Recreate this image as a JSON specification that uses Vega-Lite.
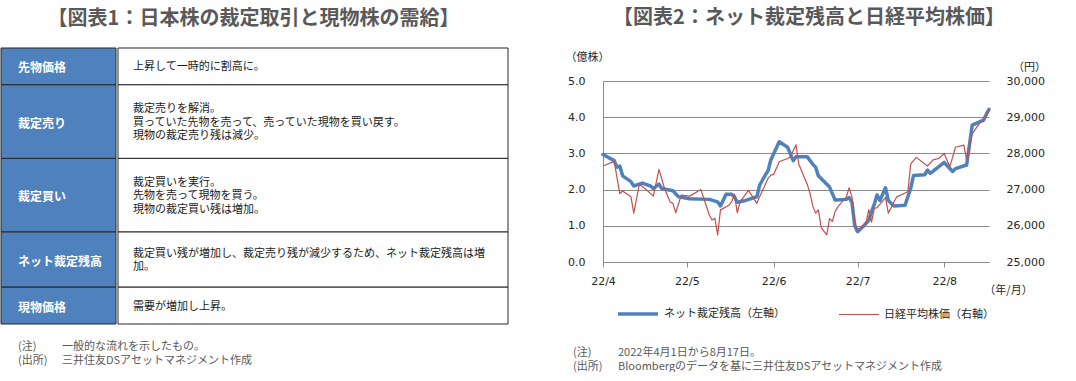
{
  "$schema": "https://vega.github.io/schema/vega-lite/v6.json",
  "background": "white",
  "padding": {"left": 0, "top": 5, "right": 0, "bottom": 0},
  "config": {
    "view": {"stroke": null},
    "font": "Noto Sans CJK JP"
  },
  "datasets": {
    "table": [
      {"row": 1, "head": "先物価格", "desc": "上昇して一時的に割高に。", "span": 2},
      {"row": 2, "head": "裁定売り", "desc": "裁定売りを解消。\n買っていた先物を売って、売っていた現物を買い戻す。\n現物の裁定売り残は減少。", "span": 4},
      {"row": 3, "head": "裁定買い", "desc": "裁定買いを実行。\n先物を売って現物を買う。\n現物の裁定買い残は増加。", "span": 4},
      {"row": 4, "head": "ネット裁定残高", "desc": "裁定買い残が増加し、裁定売り残が減少するため、ネット裁定残高は増\n加。", "span": 3},
      {"row": 5, "head": "現物価格", "desc": "需要が増加し上昇。", "span": 2}
    ],
    "notesL": [
      {"i": 1, "k": "(注)", "t": "一般的な流れを示したもの。"},
      {"i": 2, "k": "(出所)", "t": "三井住友DSアセットマネジメント作成"}
    ],
    "notesR": [
      {"i": 1, "k": "(注)", "t": "2022年4月1日から8月17日。"},
      {"i": 2, "k": "(出所)", "t": "Bloombergのデータを基に三井住友DSアセットマネジメント作成"}
    ],
    "arb": [
      {"d": "2022-04-01", "v": 2.97}, {"d": "2022-04-05", "v": 2.80}, {"d": "2022-04-06", "v": 2.62}, {"d": "2022-04-07", "v": 2.65},
      {"d": "2022-04-08", "v": 2.38}, {"d": "2022-04-11", "v": 2.22}, {"d": "2022-04-12", "v": 2.10}, {"d": "2022-04-15", "v": 2.18},
      {"d": "2022-04-18", "v": 2.10}, {"d": "2022-04-19", "v": 2.03}, {"d": "2022-04-21", "v": 2.15}, {"d": "2022-04-22", "v": 2.03},
      {"d": "2022-04-26", "v": 1.97}, {"d": "2022-04-27", "v": 1.88}, {"d": "2022-04-28", "v": 1.80}, {"d": "2022-05-02", "v": 1.75},
      {"d": "2022-05-09", "v": 1.73}, {"d": "2022-05-12", "v": 1.66}, {"d": "2022-05-13", "v": 1.55}, {"d": "2022-05-15", "v": 1.87},
      {"d": "2022-05-17", "v": 1.87}, {"d": "2022-05-18", "v": 1.80}, {"d": "2022-05-19", "v": 1.65}, {"d": "2022-05-22", "v": 1.70},
      {"d": "2022-05-25", "v": 1.78}, {"d": "2022-05-26", "v": 1.80}, {"d": "2022-05-27", "v": 2.12}, {"d": "2022-05-29", "v": 2.40},
      {"d": "2022-05-30", "v": 2.52}, {"d": "2022-05-31", "v": 2.82}, {"d": "2022-06-03", "v": 3.32}, {"d": "2022-06-06", "v": 3.17},
      {"d": "2022-06-08", "v": 2.80}, {"d": "2022-06-09", "v": 2.91}, {"d": "2022-06-13", "v": 2.91}, {"d": "2022-06-15", "v": 2.70},
      {"d": "2022-06-16", "v": 2.62}, {"d": "2022-06-17", "v": 2.38}, {"d": "2022-06-20", "v": 2.15}, {"d": "2022-06-21", "v": 2.07},
      {"d": "2022-06-23", "v": 1.71}, {"d": "2022-06-25", "v": 1.72}, {"d": "2022-06-27", "v": 1.73}, {"d": "2022-06-28", "v": 1.78},
      {"d": "2022-06-29", "v": 1.65}, {"d": "2022-06-30", "v": 1.00}, {"d": "2022-07-01", "v": 0.84}, {"d": "2022-07-03", "v": 0.98},
      {"d": "2022-07-05", "v": 1.15}, {"d": "2022-07-06", "v": 1.39}, {"d": "2022-07-07", "v": 1.60}, {"d": "2022-07-08", "v": 1.85},
      {"d": "2022-07-09", "v": 1.70}, {"d": "2022-07-11", "v": 2.05}, {"d": "2022-07-12", "v": 1.70}, {"d": "2022-07-14", "v": 1.55},
      {"d": "2022-07-18", "v": 1.57}, {"d": "2022-07-20", "v": 2.03}, {"d": "2022-07-21", "v": 2.39}, {"d": "2022-07-25", "v": 2.41},
      {"d": "2022-07-26", "v": 2.54}, {"d": "2022-07-27", "v": 2.45}, {"d": "2022-08-01", "v": 2.75}, {"d": "2022-08-04", "v": 2.50},
      {"d": "2022-08-05", "v": 2.58}, {"d": "2022-08-09", "v": 2.68}, {"d": "2022-08-11", "v": 3.78}, {"d": "2022-08-15", "v": 3.92},
      {"d": "2022-08-17", "v": 4.22}
    ],
    "nk": [
      {"d": "2022-04-01", "v": 27650}, {"d": "2022-04-05", "v": 27780}, {"d": "2022-04-07", "v": 26890}, {"d": "2022-04-08", "v": 26960},
      {"d": "2022-04-11", "v": 26800}, {"d": "2022-04-12", "v": 26350}, {"d": "2022-04-14", "v": 27150}, {"d": "2022-04-16", "v": 27030},
      {"d": "2022-04-19", "v": 26820}, {"d": "2022-04-21", "v": 27560}, {"d": "2022-04-23", "v": 27030}, {"d": "2022-04-25", "v": 26660},
      {"d": "2022-04-26", "v": 26620}, {"d": "2022-04-27", "v": 26360}, {"d": "2022-04-29", "v": 26850}, {"d": "2022-05-02", "v": 26820},
      {"d": "2022-05-06", "v": 27000}, {"d": "2022-05-09", "v": 26300}, {"d": "2022-05-10", "v": 26160}, {"d": "2022-05-11", "v": 26210},
      {"d": "2022-05-12", "v": 25750}, {"d": "2022-05-13", "v": 26440}, {"d": "2022-05-16", "v": 26570}, {"d": "2022-05-17", "v": 26660},
      {"d": "2022-05-18", "v": 26870}, {"d": "2022-05-19", "v": 26360}, {"d": "2022-05-20", "v": 26660}, {"d": "2022-05-23", "v": 26980},
      {"d": "2022-05-26", "v": 26620}, {"d": "2022-05-27", "v": 26800}, {"d": "2022-05-30", "v": 27310}, {"d": "2022-05-31", "v": 27400},
      {"d": "2022-06-01", "v": 27420}, {"d": "2022-06-02", "v": 27590}, {"d": "2022-06-03", "v": 27770}, {"d": "2022-06-06", "v": 27860},
      {"d": "2022-06-07", "v": 27910}, {"d": "2022-06-09", "v": 28240}, {"d": "2022-06-10", "v": 27700}, {"d": "2022-06-13", "v": 27150},
      {"d": "2022-06-14", "v": 26900}, {"d": "2022-06-15", "v": 26550}, {"d": "2022-06-16", "v": 26350}, {"d": "2022-06-17", "v": 26440},
      {"d": "2022-06-18", "v": 25950}, {"d": "2022-06-20", "v": 25750}, {"d": "2022-06-21", "v": 26200}, {"d": "2022-06-22", "v": 26120},
      {"d": "2022-06-23", "v": 26400}, {"d": "2022-06-24", "v": 26530}, {"d": "2022-06-27", "v": 26800}, {"d": "2022-06-28", "v": 27050},
      {"d": "2022-06-29", "v": 26800}, {"d": "2022-06-30", "v": 26100}, {"d": "2022-07-01", "v": 25880}, {"d": "2022-07-04", "v": 26060},
      {"d": "2022-07-05", "v": 26450}, {"d": "2022-07-06", "v": 26100}, {"d": "2022-07-07", "v": 26480}, {"d": "2022-07-08", "v": 26500},
      {"d": "2022-07-11", "v": 26780}, {"d": "2022-07-12", "v": 26350}, {"d": "2022-07-15", "v": 26800}, {"d": "2022-07-19", "v": 26940},
      {"d": "2022-07-20", "v": 27710}, {"d": "2022-07-22", "v": 27890}, {"d": "2022-07-26", "v": 27650}, {"d": "2022-07-28", "v": 27820},
      {"d": "2022-07-30", "v": 27860}, {"d": "2022-08-01", "v": 28000}, {"d": "2022-08-03", "v": 27630}, {"d": "2022-08-05", "v": 28170},
      {"d": "2022-08-08", "v": 28230}, {"d": "2022-08-09", "v": 27820}, {"d": "2022-08-11", "v": 28540}, {"d": "2022-08-14", "v": 28880},
      {"d": "2022-08-15", "v": 28880}, {"d": "2022-08-17", "v": 29220}
    ]
  },
  "spacing": 56,
  "resolve": {"scale": {"color": "independent", "strokeWidth": "independent"}},
  "hconcat": [
    {
      "spacing": 15,
      "vconcat": [
        {
          "width": 505,
          "height": 27,
          "data": {"values": [{"t": "【図表1：日本株の裁定取引と現物株の需給】"}]},
          "mark": {"type": "text", "baseline": "middle", "align": "center", "fontSize": 20, "fontWeight": "bold", "fill": "#595959"},
          "encoding": {"text": {"field": "t"}}
        },
        {
          "spacing": 0,
          "hconcat": [
            {
              "width": 115,
              "height": 276,
              "data": {"name": "table"},
              "transform": [
                {"stack": "span", "groupby": [], "sort": [{"field": "row", "order": "ascending"}], "as": ["y0", "y1"]},
                {"calculate": "(datum.y0 + datum.y1) / 2", "as": "ym"}
              ],
              "layer": [
                {
                  "mark": {"type": "rect", "fill": "#4F81BD", "stroke": "#262626", "strokeWidth": 1},
                  "encoding": {
                    "y": {"field": "y0", "type": "quantitative", "scale": {"domain": [0, 15], "reverse": true, "nice": false, "zero": false}, "axis": null},
                    "y2": {"field": "y1"}
                  }
                },
                {
                  "mark": {"type": "text", "align": "left", "baseline": "middle", "dx": 17, "dy": 2, "fontSize": 12, "fontWeight": "bold", "fill": "white"},
                  "encoding": {
                    "x": {"value": 0},
                    "y": {"field": "ym", "type": "quantitative"},
                    "text": {"field": "head"}
                  }
                }
              ]
            },
            {
              "width": 390,
              "height": 276,
              "data": {"name": "table"},
              "transform": [
                {"stack": "span", "groupby": [], "sort": [{"field": "row", "order": "ascending"}], "as": ["y0", "y1"]},
                {"calculate": "(datum.y0 + datum.y1) / 2 - (length(split(datum.desc, '\\n')) - 1) * 0.367", "as": "yt"}
              ],
              "layer": [
                {
                  "mark": {"type": "rect", "fill": "white", "stroke": "#262626", "strokeWidth": 1},
                  "encoding": {
                    "y": {"field": "y0", "type": "quantitative", "scale": {"domain": [0, 15], "reverse": true, "nice": false, "zero": false}, "axis": null},
                    "y2": {"field": "y1"}
                  }
                },
                {
                  "mark": {"type": "text", "align": "left", "baseline": "middle", "dx": 15, "dy": 1, "fontSize": 11, "lineHeight": 13.5, "lineBreak": "\n", "fill": "#1a1a1a"},
                  "encoding": {
                    "x": {"value": 0},
                    "y": {"field": "yt", "type": "quantitative"},
                    "text": {"field": "desc"}
                  }
                }
              ]
            }
          ]
        },
        {
          "width": 505,
          "height": 28,
          "data": {"name": "notesL"},
          "layer": [
            {
              "mark": {"type": "text", "align": "left", "baseline": "middle", "dx": 17, "fontSize": 11, "fill": "#595959"},
              "encoding": {"x": {"value": 0}, "y": {"field": "i", "type": "ordinal", "axis": null}, "text": {"field": "k"}}
            },
            {
              "mark": {"type": "text", "align": "left", "baseline": "middle", "dx": 61, "fontSize": 11, "fill": "#595959"},
              "encoding": {"x": {"value": 0}, "y": {"field": "i", "type": "ordinal", "axis": null}, "text": {"field": "t"}}
            }
          ]
        }
      ]
    },
    {
      "spacing": 23,
      "resolve": {"scale": {"color": "independent", "strokeWidth": "independent"}},
      "vconcat": [
        {
          "width": 386,
          "height": 20,
          "data": {"values": [{"t": "【図表2：ネット裁定残高と日経平均株価】"}]},
          "mark": {"type": "text", "baseline": "middle", "align": "center", "dx": 13, "dy": 3, "fontSize": 20, "fontWeight": "bold", "fill": "#595959"},
          "encoding": {"text": {"field": "t"}}
        },
        {
          "width": 386,
          "height": 181,
          "encoding": {
            "x": {
              "field": "d",
              "type": "temporal",
              "scale": {"type": "utc", "domain": [{"year": 2022, "month": 4, "date": 1, "utc": true}, {"year": 2022, "month": 8, "date": 17, "utc": true}], "nice": false},
              "axis": {
                "values": [
                  {"year": 2022, "month": 4, "date": 1, "utc": true},
                  {"year": 2022, "month": 5, "date": 1, "utc": true},
                  {"year": 2022, "month": 6, "date": 1, "utc": true},
                  {"year": 2022, "month": 7, "date": 1, "utc": true},
                  {"year": 2022, "month": 8, "date": 1, "utc": true}
                ],
                "labelExpr": "utcFormat(datum.value, '%y/%-m')",
                "grid": false,
                "tickSize": 5,
                "tickColor": "#8c8c8c",
                "domainColor": "#8c8c8c",
                "labelPadding": 8,
                "labelFont": "DejaVu Sans",
                "labelFontSize": 11,
                "labelColor": "#262626",
                "labelFlush": false,
                "title": "（年/月）",
                "titleFont": "Noto Sans CJK JP",
                "titleFontSize": 11,
                "titleFontWeight": "normal",
                "titleColor": "#262626",
                "titleAlign": "center",
                "titleBaseline": "middle",
                "titleX": 405,
                "titleY": 28
              }
            },
            "color": {
              "field": "s",
              "type": "nominal",
              "scale": {"domain": ["ネット裁定残高（左軸）", "日経平均株価（右軸）"], "range": ["#4F81BD", "#C0504D"]},
              "legend": {
                "orient": "none",
                "legendX": 13,
                "legendY": 211,
                "direction": "horizontal",
                "title": null,
                "symbolType": "stroke",
                "symbolSize": 1600,
                "labelFont": "Noto Sans CJK JP",
                "labelFontSize": 11,
                "labelColor": "#262626",
                "labelOffset": 4,
                "columnPadding": 51,
                "padding": 0
              }
            },
            "strokeWidth": {
              "field": "s",
              "type": "nominal",
              "scale": {"domain": ["ネット裁定残高（左軸）", "日経平均株価（右軸）"], "range": [3.5, 1.2]},
              "legend": {
                "orient": "none",
                "legendX": 13,
                "legendY": 211,
                "direction": "horizontal",
                "title": null,
                "symbolType": "stroke",
                "symbolSize": 1600,
                "labelFont": "Noto Sans CJK JP",
                "labelFontSize": 11,
                "labelColor": "#262626",
                "labelOffset": 4,
                "columnPadding": 51,
                "padding": 0
              }
            }
          },
          "layer": [
            {
              "data": {"name": "arb"},
              "transform": [{"calculate": "'ネット裁定残高（左軸）'", "as": "s"}],
              "mark": {"type": "line", "strokeJoin": "round", "strokeCap": "round"},
              "encoding": {
                "y": {
                  "field": "v",
                  "type": "quantitative",
                  "scale": {"domain": [0, 5], "nice": false, "zero": false},
                  "axis": {
                    "orient": "left",
                    "values": [0, 1, 2, 3, 4, 5],
                    "labelExpr": "format(datum.value, '.1f')",
                    "grid": true,
                    "gridColor": "#8c8c8c",
                    "gridWidth": 1,
                    "domainColor": "#8c8c8c",
                    "ticks": false,
                    "labelPadding": 18,
                    "labelFont": "DejaVu Sans",
                    "labelFontSize": 11,
                    "labelColor": "#262626",
                    "title": "（億株）",
                    "titleAngle": 0,
                    "titleFont": "Noto Sans CJK JP",
                    "titleFontSize": 11,
                    "titleFontWeight": "normal",
                    "titleColor": "#262626",
                    "titleAlign": "center",
                    "titleBaseline": "middle",
                    "titleX": -16,
                    "titleY": -24
                  }
                }
              }
            },
            {
              "data": {"name": "nk"},
              "transform": [{"calculate": "'日経平均株価（右軸）'", "as": "s"}],
              "mark": {"type": "line", "strokeJoin": "round"},
              "encoding": {
                "y": {
                  "field": "v",
                  "type": "quantitative",
                  "scale": {"domain": [25000, 30000], "nice": false, "zero": false},
                  "axis": {
                    "orient": "right",
                    "values": [25000, 26000, 27000, 28000, 29000, 30000],
                    "labelExpr": "format(datum.value, ',')",
                    "grid": false,
                    "domain": false,
                    "ticks": false,
                    "labelPadding": 17,
                    "labelFont": "DejaVu Sans",
                    "labelFontSize": 11,
                    "labelColor": "#262626",
                    "title": "（円）",
                    "titleAngle": 0,
                    "titleFont": "Noto Sans CJK JP",
                    "titleFontSize": 11,
                    "titleFontWeight": "normal",
                    "titleColor": "#262626",
                    "titleAlign": "center",
                    "titleBaseline": "middle",
                    "titleX": 40,
                    "titleY": -14
                  }
                }
              }
            }
          ],
          "resolve": {"scale": {"y": "independent"}}
        },
        {
          "width": 386,
          "height": 28,
          "data": {"name": "notesR"},
          "layer": [
            {
              "mark": {"type": "text", "align": "left", "baseline": "middle", "dx": -30, "dy": 2, "fontSize": 11, "fill": "#595959"},
              "encoding": {"x": {"value": 0}, "y": {"field": "i", "type": "ordinal", "axis": null}, "text": {"field": "k"}}
            },
            {
              "mark": {"type": "text", "align": "left", "baseline": "middle", "dx": 15, "dy": 2, "fontSize": 11, "fill": "#595959"},
              "encoding": {"x": {"value": 0}, "y": {"field": "i", "type": "ordinal", "axis": null}, "text": {"field": "t"}}
            }
          ]
        }
      ]
    }
  ]
}
